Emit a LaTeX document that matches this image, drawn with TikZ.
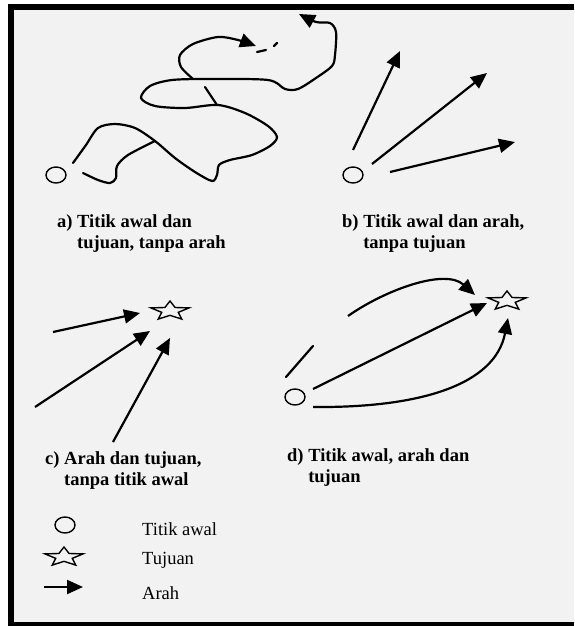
\documentclass[tikz,border=0pt]{standalone}
\usepackage{fontspec}
\setmainfont{Liberation Serif}
\usetikzlibrary{shapes.geometric,arrows.meta}

\definecolor{bggray}{HTML}{F2F2F2}

\tikzset{
	startpt/.style = {draw, ellipse, line width = 1.4pt, minimum width = 20pt, minimum height = 16pt, inner sep = 0pt},
	goal/.style = {draw, star, star points = 5, star point ratio = 2.3, line width = 1.4pt, minimum size = 20pt, inner sep = 0pt, xscale = 2},
	dir/.style = {line width = 2.2pt, -{Triangle[length = 16pt, width = 14pt]}},
	wander/.style = {line width = 2.2pt, line cap = round},
	caption/.style = {font = \fontsize{18.5}{21}\selectfont\bfseries, align = left, anchor = north west, inner sep = 0pt},
	legend/.style = {font = \fontsize{18.5}{20}\selectfont, anchor = base west, inner sep = 0pt}
}

\begin{document}
\begin{tikzpicture}[x = 1pt, y = -1pt]
	\useasboundingbox (0,0) rectangle (574,626);
	\fill[white] (0,0) rectangle (574,626);
	\fill[bggray] (11,7) rectangle (574,625);
	\draw[line width = 5.5pt] (574,7) -- (11,7) -- (11,626) (11,624.8) -- (574,624.8);
	
	% a) start and goal, no direction
	\node[startpt] (sa) at (56,175) {};
	\draw[wander, -{Triangle[length = 16pt, width = 14pt]}] plot[smooth] coordinates {(73,163) (86,145) (98,128) (115,124) (135,128) (155,141) (175,158) (195,172) (212,181) (217,175) (219,165) (230,160) (252,155) (270,146) (277,137) (268,126) (245,113) (218,105) (185,108) (155,106) (141,98) (150,86) (172,80) (210,79) (268,80) (285,89) (298,89) (316,78) (332,66) (335,55) (336,32) (330,23) (316,22) (299,14)};
	\draw[wander] plot[smooth] coordinates {(83,173) (98,180) (110,183) (116,178) (117,166) (128,155) (155,141)};
	\draw[wander, -{Triangle[length = 16pt, width = 14pt]}] plot[smooth] coordinates {(193,79) (181,67) (180,55) (193,44) (218,37) (238,40) (256,46)};
	\draw[wander] (205,87) -- (211,96) -- (217,105);
	\draw[wander] (257,52) -- (266,50);
	\draw[wander] (274,46) -- (277,43);
	\node[caption] (capa) at (57,214.2) {a) Titik awal dan\\\phantom{a) }tujuan, tanpa arah};
	
	% b) start and direction, no goal
	\node[startpt] (sb) at (353,175) {};
	\draw[dir] (353,150) -- (400,51);
	\draw[dir] (372,164) -- (487,73);
	\draw[dir] (390,172) -- (515,142);
	\node[caption] (capb) at (342,214.2) {b) Titik awal dan arah,\\\phantom{b) }tanpa tujuan};
	
	% c) direction and goal, no start
	\node[goal] (gc) at (170,311) {};
	\draw[dir] (53,332) -- (140,313);
	\draw[dir] (35,407) -- (150,331);
	\draw[dir] (113,442) -- (170,338);
	\node[caption] (capc) at (45,451.2) {c) Arah dan tujuan,\\\phantom{c) }tanpa titik awal};
	
	% d) start, direction and goal
	\node[startpt] (sd) at (295,397) {};
	\node[goal] (gd) at (507,301) {};
	\draw[dir] (313,389) -- (487,303);
	\draw[wander] (286,377) -- (313,346);
	\draw[dir] (348,316) .. controls (385,290) and (445,268) .. (475,295);
	\draw[dir] (313,407) .. controls (420,408) and (495,385) .. (508,318);
	\node[caption] (capd) at (287,448.2) {d) Titik awal, arah dan\\\phantom{d) }tujuan};
	
	% legend
	\node[startpt] (lstart) at (65,525) {};
	\node[goal] (lgoal) at (64,557) {};
	\draw[dir] (44,587) -- (83,587);
	\node[legend] (tstart) at (142,535) {Titik awal};
	\node[legend] (tgoal) at (142,564) {Tujuan};
	\node[legend] (tdir) at (142,599) {Arah};
\end{tikzpicture}
\end{document}
